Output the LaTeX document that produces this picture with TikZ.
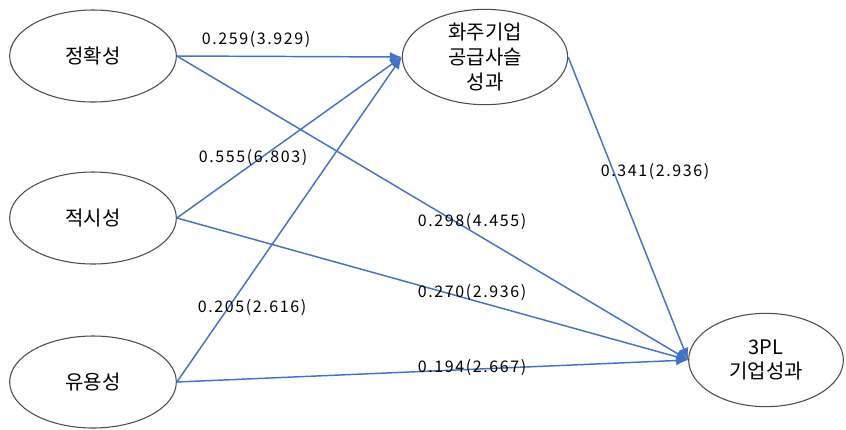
\documentclass[tikz,border=0pt]{standalone}
\usepackage{fontspec}
\setmainfont{Noto Sans CJK KR}
\newfontfamily\numfont[LetterSpace=10]{Noto Sans CJK KR}
\usetikzlibrary{shapes.geometric,arrows.meta}
\definecolor{pathblue}{RGB}{68,114,196}
\definecolor{rimgray}{RGB}{75,75,90}
\begin{document}
\begin{tikzpicture}[x=0.75pt,y=-0.75pt,
  factor/.style={ellipse,draw=rimgray,fill=white,line width=0.8pt,inner sep=0pt,
    minimum width=125pt,minimum height=69pt,align=center,
    font=\fontsize{15}{18.5}\selectfont},
  effect/.style={draw=pathblue,line width=1.1pt,-{Latex[length=9pt,width=7.5pt]}},
  coef/.style={inner sep=0pt,font=\numfont\fontsize{12}{14}\selectfont}]
\useasboundingbox (0,0) rectangle (846,429);
%factors
\node[factor] (acc) at (93,56) {정확성};
\node[factor] (tim) at (93,218) {적시성};
\node[factor] (use) at (93,382) {유용성};
\node[factor,minimum width=124pt,minimum height=68pt] (ship) at (485,57) {화주기업\\공급사슬\\성과};
\node[factor,minimum width=116pt,minimum height=70pt] (tpl) at (766,360) {3PL\\기업성과};
%paths
\draw[effect] (acc.east) -- (ship.west);
\draw[effect] (acc.east) -- (tpl.west);
\draw[effect] (tim.east) -- (ship.west);
\draw[effect] (tim.east) -- (tpl.west);
\draw[effect] (use.east) -- (ship.west);
\draw[effect] (use.east) -- (tpl.west);
\draw[effect] (ship.east) -- (tpl.west);
%coefficients
\node[coef] (c1) at (256,40) {0.259(3.929)};
\node[coef] (c2) at (253,158) {0.555(6.803)};
\node[coef] (c3) at (252,308) {0.205(2.616)};
\node[coef] (c4) at (472,222) {0.298(4.455)};
\node[coef] (c5) at (655,172) {0.341(2.936)};
\node[coef] (c6) at (472,293) {0.270(2.936)};
\node[coef] (c7) at (472,368) {0.194(2.667)};
\end{tikzpicture}
\end{document}
